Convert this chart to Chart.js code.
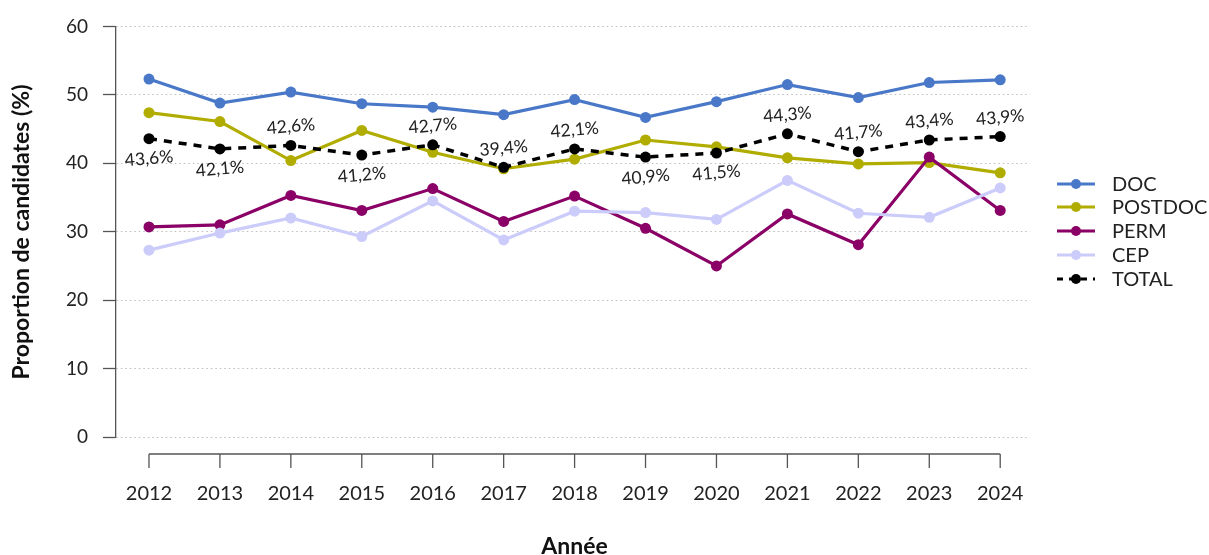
<!DOCTYPE html>
<html>
<head>
<meta charset="utf-8">
<script src="https://cdn.jsdelivr.net/npm/chart.js@4.4.0/dist/chart.umd.min.js"></script>
<style>
  body { margin: 0; background: #fff; }
</style>
</head>
<body>
<canvas id="graphique" width="1209" height="555"></canvas>
<script>
"use strict";

const annees = [2012, 2013, 2014, 2015, 2016, 2017, 2018, 2019, 2020, 2021, 2022, 2023, 2024];
const doc = [52.3, 48.8, 50.4, 48.7, 48.2, 47.1, 49.3, 46.7, 49.0, 51.5, 49.6, 51.8, 52.2];
const postdoc = [47.4, 46.1, 40.4, 44.8, 41.6, 39.2, 40.6, 43.4, 42.4, 40.8, 39.9, 40.1, 38.6];
const perm = [30.7, 31.0, 35.3, 33.1, 36.3, 31.5, 35.2, 30.5, 25.0, 32.6, 28.1, 40.9, 33.1];
const cep = [27.3, 29.8, 32.0, 29.3, 34.5, 28.8, 33.0, 32.8, 31.8, 37.5, 32.7, 32.1, 36.4];
const total = [43.6, 42.1, 42.6, 41.2, 42.7, 39.4, 42.1, 40.9, 41.5, 44.3, 41.7, 43.4, 43.9];
// où placer l'étiquette du total : "bas" ou "haut"
const positionEtiquettes = ["bas", "bas", "haut", "bas", "haut", "haut", "haut", "bas", "bas", "haut", "haut", "haut", "haut"];
const graduationsY = [0, 10, 20, 30, 40, 50, 60];

const police = "Lato, 'Open Sans', sans-serif";

const points = (valeurs) => valeurs.map((v, i) => ({ x: annees[i], y: v }));

const serie = (label, valeurs, couleur, ordre) => ({
    label: label,
    data: points(valeurs),
    borderColor: couleur,
    backgroundColor: couleur,
    pointBackgroundColor: couleur,
    pointBorderWidth: 0,
    pointRadius: 5.5,
    borderWidth: 3.2,
    tension: 0,
    order: ordre,
});

const datasetTotal = serie("TOTAL", total, "#000000", 1);
datasetTotal.borderDash = [8, 7];
datasetTotal.borderWidth = 3.5;

const datasets = [
    serie("DOC", doc, "#4a78c8", 5),
    serie("POSTDOC", postdoc, "#b0ad00", 4),
    serie("PERM", perm, "#8a0066", 3),
    serie("CEP", cep, "#ccccfa", 2),
    datasetTotal,
];

// étiquettes du total, légèrement inclinées
const pluginEtiquettes = {
    id: "etiquettes",
    afterDatasetsDraw(chart) {
        const ctx = chart.ctx;
        const meta = chart.getDatasetMeta(4);
        ctx.save();
        ctx.font = `17.5px ${police}`;
        ctx.fillStyle = "#222";
        ctx.textAlign = "center";
        ctx.textBaseline = "middle";
        meta.data.forEach((pt, i) => {
            const dy = positionEtiquettes[i] === "haut" ? -19 : 20;
            ctx.save();
            ctx.translate(pt.x, pt.y + dy);
            ctx.rotate(-5 * Math.PI / 180);
            ctx.fillText(total[i].toFixed(1).replace(".", ",") + "%", 0, 0);
            ctx.restore();
        });
        ctx.restore();
    },
};

// axe des x détaché, titres et légende
const pluginDecor = {
    id: "decor",
    afterDraw(chart) {
        const ctx = chart.ctx;
        const x = chart.scales.x;
        const yAxe = chart.chartArea.bottom + 17;
        ctx.save();
        ctx.strokeStyle = "#555";
        ctx.lineWidth = 1.3;
        ctx.beginPath();
        ctx.moveTo(x.getPixelForValue(annees[0]), yAxe);
        ctx.lineTo(x.getPixelForValue(annees[annees.length - 1]), yAxe);
        annees.forEach((a) => {
            const px = x.getPixelForValue(a);
            ctx.moveTo(px, yAxe);
            ctx.lineTo(px, yAxe + 14);
        });
        ctx.stroke();

        ctx.fillStyle = "#111";
        ctx.font = `bold 23px ${police}`;
        ctx.textAlign = "center";
        ctx.textBaseline = "middle";
        ctx.fillText("Année", (x.getPixelForValue(annees[0]) + x.getPixelForValue(annees[annees.length - 1])) / 2, 547);

        ctx.save();
        ctx.translate(22, 232);
        ctx.rotate(-Math.PI / 2);
        ctx.fillText("Proportion de candidates (%)", 0, 0);
        ctx.restore();

        // légende
        ctx.font = `20px ${police}`;
        ctx.textAlign = "left";
        const lignesY = [184, 207, 231, 255, 279];
        datasets.forEach((ds, i) => {
            const ly = lignesY[i];
            ctx.strokeStyle = ds.borderColor;
            ctx.fillStyle = ds.borderColor;
            ctx.lineWidth = 3;
            ctx.setLineDash(ds.borderDash ? [6, 6] : []);
            ctx.beginPath();
            ctx.moveTo(1057, ly);
            ctx.lineTo(1095, ly);
            ctx.stroke();
            ctx.setLineDash([]);
            ctx.beginPath();
            ctx.arc(1076, ly, 5, 0, Math.PI * 2);
            ctx.fill();
            ctx.fillStyle = "#222";
            ctx.fillText(ds.label, 1112, ly + 1);
        });
        ctx.restore();
    },
};

new Chart(document.getElementById("graphique"), {
    type: "line",
    data: { datasets: datasets },
    plugins: [pluginEtiquettes, pluginDecor],
    options: {
        responsive: false,
        animation: false,
        layout: { padding: { top: 24, right: 179, left: 0, bottom: 0 } },
        plugins: {
            legend: { display: false },
            tooltip: { enabled: false },
        },
        scales: {
            x: {
                type: "linear",
                min: 2011.535,
                max: 2024.42,
                afterFit: (s) => { s.height = 118; },
                grid: { display: false, drawTicks: false },
                border: { display: false },
                ticks: {
                    stepSize: 1,
                    includeBounds: false,
                    autoSkip: false,
                    maxRotation: 0,
                    padding: 45,
                    color: "#222",
                    font: { family: police, size: 20 },
                    callback: (v) => String(v),
                },
            },
            y: {
                min: 0,
                max: 60,
                afterFit: (s) => { s.width = 116; },
                afterBuildTicks: (s) => { s.ticks = graduationsY.map((v) => ({ value: v })); },
                grid: {
                    color: "#bdbdbd",
                    lineWidth: 1,
                    tickLength: 13,
                    tickColor: "#555",
                    tickWidth: 1.3,
                    tickBorderDash: [],
                },
                border: { display: true, color: "#555", width: 1.3, dash: [1.5, 3] },
                ticks: {
                    padding: 15,
                    color: "#222",
                    font: { family: police, size: 19 },
                },
            },
        },
    },
});
</script>
</body>
</html>
